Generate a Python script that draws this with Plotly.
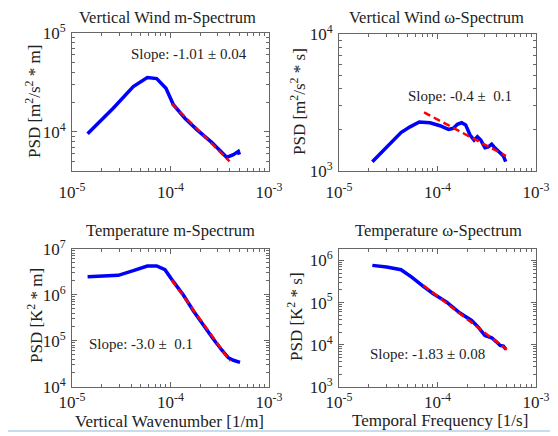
import plotly.graph_objects as go

# ---------------- data ----------------
# Vertical wind, m-spectrum
vw_m_x = [1.44e-5, 2.62e-5, 4.19e-5, 5.82e-5, 7.24e-5, 8.99e-5, 1.07e-4, 1.40e-4,
          1.85e-4, 2.62e-4, 3.72e-4, 4.35e-4, 4.88e-4, 5.01e-4]
vw_m_psd = [9550, 17300, 28700, 35400, 34500, 27600, 18750, 13700,
            10500, 7800, 5500, 5860, 6320, 5860]
vw_m_fit_x = [1.03e-4, 3.98e-4]
vw_m_fit_psd = [19200, 5010]

# Vertical wind, omega-spectrum
vw_w_x = [2.18e-5, 3.05e-5, 4.26e-5, 5.26e-5, 6.53e-5, 8.39e-5, 1.06e-4, 1.29e-4,
          1.45e-4, 1.59e-4, 1.76e-4, 1.93e-4, 2.14e-4, 2.35e-4, 2.54e-4, 2.75e-4,
          3.03e-4, 3.28e-4, 3.55e-4, 3.84e-4, 4.32e-4, 4.66e-4, 4.92e-4]
vw_w_psd = [1170, 1500, 1910, 2100, 2280, 2250, 2140, 2010,
            2050, 2190, 2250, 2170, 1830, 1680, 1780, 1680,
            1480, 1500, 1570, 1470, 1350, 1290, 1170]
vw_w_fit_x = [7.30e-5, 4.95e-4]
vw_w_fit_psd = [2680, 1290]

# Temperature, m-spectrum
t_m_x = [1.44e-5, 2.08e-5, 2.95e-5, 4.19e-5, 5.81e-5, 7.24e-5, 8.79e-5, 1.07e-4,
         1.35e-4, 1.71e-4, 2.15e-4, 2.72e-4, 3.31e-4, 3.86e-4, 4.35e-4, 5.08e-4]
t_m_psd = [2.46e6, 2.55e6, 2.64e6, 3.33e6, 4.21e6, 4.21e6, 3.49e6, 1.92e6,
           9.84e5, 4.43e5, 2.19e5, 1.09e5, 6.28e4, 4.27e4, 3.75e4, 3.39e4]
t_m_fit_x = [1.03e-4, 4.02e-4]
t_m_fit_psd = [2.09e6, 3.62e4]

# Temperature, omega-spectrum
t_w_x = [2.18e-5, 3.05e-5, 4.26e-5, 5.47e-5, 7.18e-5, 9.06e-5, 1.24e-4, 1.69e-4,
         2.22e-4, 2.59e-4, 3.03e-4, 3.55e-4, 3.99e-4, 4.32e-4, 4.66e-4, 4.95e-4]
t_w_psd = [7.62e5, 6.95e5, 6.01e5, 4.03e5, 2.42e5, 1.62e5, 1.03e5, 5.64e4,
           3.78e4, 2.63e4, 1.67e4, 1.47e4, 1.16e4, 9680, 9310, 7780]
t_w_fit_x = [7.18e-5, 5.05e-4]
t_w_fit_psd = [2.56e5, 7660]

titles = ["Vertical Wind m-Spectrum", "Vertical Wind \u03c9-Spectrum",
          "Temperature m-Spectrum", "Temperature \u03c9-Spectrum"]
ylabels = ["PSD [m<sup>2</sup>/s<sup>2</sup> * m]", "PSD [m<sup>2</sup>/s<sup>2</sup> * s]",
           "PSD [K<sup>2</sup> * m]", "PSD [K<sup>2</sup> * s]"]
xlabels = ["Vertical Wavenumber [1/m]", "Temporal Frequency [1/s]"]
slope_texts = ["Slope: -1.01 \u00b1 0.04", "Slope: -0.4 \u00b1  0.1",
               "Slope: -3.0 \u00b1  0.1", "Slope: -1.83 \u00b1 0.08"]
x_decades = [-5, -4, -3]
y_decades = [[4, 5], [3, 4], [4, 5, 6, 7], [3, 4, 5, 6]]

# ---------------- figure ----------------
# The page body has an 8px margin, so the figure is drawn 8px smaller and
# every position below is expressed in page pixels minus that offset.
OFF = 8
W, H = 558 - OFF, 436 - OFF
FONT = "Liberation Serif, Times New Roman, serif"
fig = go.Figure()

series = [
    (vw_m_x, vw_m_psd, vw_m_fit_x, vw_m_fit_psd),
    (vw_w_x, vw_w_psd, vw_w_fit_x, vw_w_fit_psd),
    (t_m_x, t_m_psd, t_m_fit_x, t_m_fit_psd),
    (t_w_x, t_w_psd, t_w_fit_x, t_w_fit_psd),
]

# pixel boxes in page coords (left, right, top, bottom)
boxes = [(72, 269, 33, 171), (339, 536, 34, 171),
         (72, 269, 248.7, 386.7), (339, 536, 249, 387)]
yranges = [[3.602, 5], [3, 4], [4, 7], [3, 6.27]]
x_standoff = [6, 6, 0, 0]

for i, (x, y, fx, fy) in enumerate(series):
    ax = "" if i == 0 else str(i + 1)
    fig.add_trace(go.Scatter(x=x, y=y, mode="lines", xaxis="x" + ax, yaxis="y" + ax,
                             line=dict(color="#0000ff", width=3.5), showlegend=False))
    fig.add_trace(go.Scatter(x=fx, y=fy, mode="lines", xaxis="x" + ax, yaxis="y" + ax,
                             line=dict(color="#ff0000", width=2.5, dash="7px,4px"),
                             showlegend=False))

def minor_vals(decs):
    vals = []
    for d in range(decs[0] - 1, decs[-1] + 1):
        for m in range(2, 10):
            vals.append(m * 10 ** d)
    return vals

def px(xp):
    return (xp - OFF) / W

def py(yp):
    return 1 - (yp - OFF) / H

for i in range(4):
    l, r, t, b = boxes[i]
    ax = "" if i == 0 else str(i + 1)
    common = dict(type="log", showgrid=False, zeroline=False, showline=True,
                  linecolor="#666666", linewidth=1, mirror="allticks", automargin=False,
                  ticks="inside", ticklen=5, tickcolor="#666666",
                  tickfont=dict(family=FONT, size=17, color="#222222"))
    xa = dict(common, domain=[px(l), px(r)], range=[-5, -3],
              anchor="y" + ax, tickmode="array", ticklabelstandoff=x_standoff[i],
              tickvals=[10.0 ** d for d in x_decades],
              ticktext=["10<sup>%d</sup>" % d for d in x_decades],
              minor=dict(ticks="inside", ticklen=3, tickcolor="#666666",
                         tickmode="array", tickvals=minor_vals(x_decades)))
    ya = dict(common, domain=[py(b), py(t)], range=yranges[i],
              anchor="x" + ax, tickmode="array", ticklabelstandoff=2,
              tickvals=[10.0 ** d for d in y_decades[i]],
              ticktext=["10<sup>%d</sup>" % d for d in y_decades[i]],
              minor=dict(ticks="inside", ticklen=3, tickcolor="#666666",
                         tickmode="array", tickvals=minor_vals(y_decades[i])))
    fig.layout["xaxis" + ax] = xa
    fig.layout["yaxis" + ax] = ya

ann = []
def add_text(txt, xp, yp, size, angle=0):
    ann.append(dict(text=txt, x=px(xp), y=py(yp), xref="paper", yref="paper",
                    showarrow=False, xanchor="center", yanchor="middle",
                    textangle=angle, font=dict(family=FONT, size=size, color="#222222")))

title_pos = [(167, 18), (436, 18), (170, 230), (438, 230)]
for i in range(4):
    add_text(titles[i], *title_pos[i], 16.5)

ylabel_pos = [(33, 102), (298, 102), (35, 316), (295, 317)]
for i in range(4):
    add_text(ylabels[i], *ylabel_pos[i], 17, angle=-90)

add_text(xlabels[0], 169.5, 421, 17)
add_text(xlabels[1], 440, 420, 17)

slope_pos = [(189, 54), (460, 96), (141, 344), (427, 354)]
for i in range(4):
    add_text(slope_texts[i], *slope_pos[i], 15)

fig.update_layout(
    width=W, height=H, margin=dict(l=0, r=0, t=0, b=0),
    paper_bgcolor="white", plot_bgcolor="white", showlegend=False,
    annotations=ann,
    shapes=[
        dict(type="line", xref="paper", yref="paper", x0=0, x1=1, y0=py(431), y1=py(431),
             line=dict(color="#c8dcea", width=2)),
    ],
)

fig.write_html("out.html")
